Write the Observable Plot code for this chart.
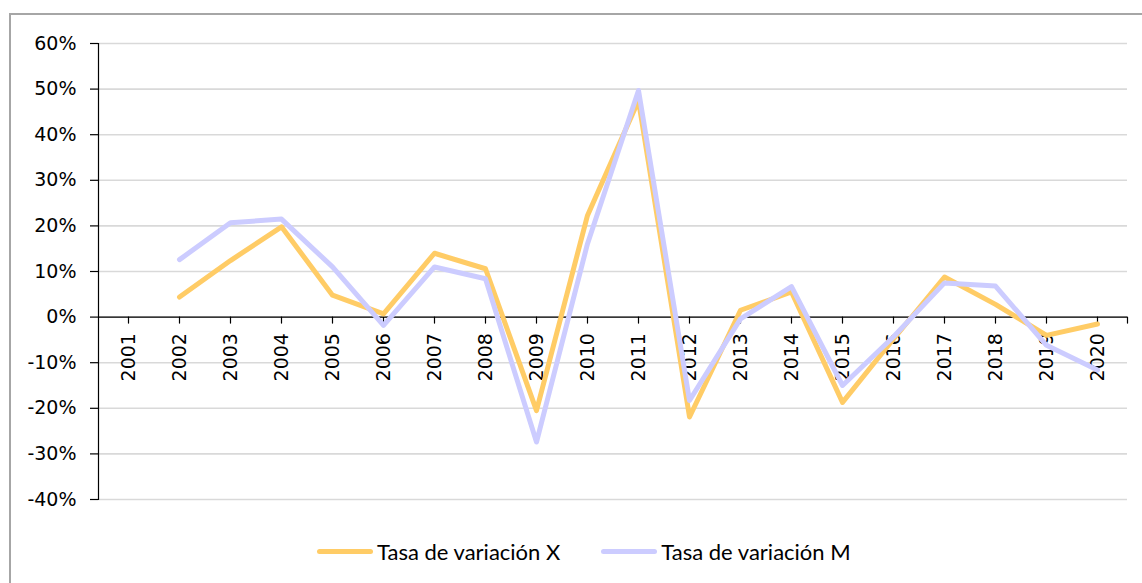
<!DOCTYPE html>
<html>
<head>
<meta charset="utf-8">
<script src="https://cdn.jsdelivr.net/npm/d3@7"></script>
<script src="https://cdn.jsdelivr.net/npm/@observablehq/plot@0.6"></script>
<style>
  html, body { margin: 0; padding: 0; background: #fff; }
  #wrap { position: relative; width: 1142px; height: 583px; overflow: hidden; }
  #border { position: absolute; left: 9px; top: 13px; width: 1200px; height: 700px;
            border-left: 2px solid #a6a6a6; border-top: 2px solid #a6a6a6; pointer-events: none; }
  #chart { position: absolute; left: 0; top: 0; }
  #legend { position: absolute; left: 317px; top: 538px; display: flex; align-items: center;
            font-family: Lato, "Noto Sans", sans-serif; font-size: 22px; color: #000; white-space: nowrap; }
  .item { display: flex; align-items: center; }
  .sw { width: 56px; height: 5px; border-radius: 3px; margin-right: 4px; }
</style>
</head>
<body>
<div id="wrap">
  <div id="chart"></div>
  <div id="legend"></div>
  <div id="border"></div>
</div>
<script>
const years = ["2001","2002","2003","2004","2005","2006","2007","2008","2009","2010",
               "2011","2012","2013","2014","2015","2016","2017","2018","2019","2020"];
const tasaX = [null, 0.044, 0.124, 0.198, 0.048, 0.007, 0.140, 0.106, -0.205, 0.223,
               0.475, -0.219, 0.015, 0.055, -0.187, -0.048, 0.088, 0.028, -0.040, -0.015];
const tasaM = [null, 0.126, 0.207, 0.215, 0.110, -0.018, 0.110, 0.084, -0.274, 0.161,
               0.497, -0.183, -0.004, 0.067, -0.150, -0.043, 0.075, 0.068, -0.062, -0.116];
const seriesNames = ["Tasa de variación X", "Tasa de variación M"];
const seriesColors = ["#ffcc66", "#ccccff"];
const yTicks = [-0.4, -0.3, -0.2, -0.1, 0, 0.1, 0.2, 0.3, 0.4, 0.5, 0.6];

const rows = [];
[tasaX, tasaM].forEach((vals, s) => {
  years.forEach((yr, i) => rows.push({year: yr, value: vals[i], series: seriesNames[s]}));
});

const pct = d => `${Math.round(d * 100)}%`;
const tickShape = { draw(ctx, l) { ctx.moveTo(0, 0); ctx.lineTo(0, -l); } };
const FONT = "'DejaVu Sans', sans-serif";

const chart = Plot.plot({
  width: 1142,
  height: 520,
  marginLeft: 98,
  marginRight: 15,
  marginTop: 43,
  marginBottom: 21,
  style: { fontFamily: FONT, fontSize: "19px", color: "#000", background: "transparent" },
  x: { type: "point", domain: years, padding: 0.5, axis: null },
  y: { domain: [-0.4, 0.6], axis: null },
  color: { domain: seriesNames, range: seriesColors },
  marks: [
    Plot.ruleY(yTicks, { stroke: "#d9d9d9", strokeWidth: 1.6 }),
    Plot.frame({ anchor: "left", stroke: "#000", strokeWidth: 1.2 }),
    Plot.axisY({ ticks: yTicks, label: null, tickSize: 8, tickPadding: 14, tickFormat: pct, fontSize: 19, fontFamily: FONT, stroke: "#000", strokeWidth: 1.2 }),
    Plot.ruleY([0], { stroke: "#000", strokeWidth: 1.2 }),
    Plot.vector(years, { x: d => d, y: 0, length: 6, rotate: 180, anchor: "start", shape: tickShape, stroke: "#000", strokeWidth: 1.2 }),
    Plot.vector([0], { y: d => d, frameAnchor: "right", length: 6, rotate: 180, anchor: "start", shape: tickShape, stroke: "#000", strokeWidth: 1.2 }),
    Plot.text(years, { x: d => d, y: 0, text: d => d, rotate: -90, textAnchor: "end", lineAnchor: "middle", dy: 16, fontSize: 19, fontFamily: FONT, fill: "#000" }),
    Plot.line(rows, { x: "year", y: "value", z: "series", stroke: "series", strokeWidth: 5, strokeLinejoin: "round", strokeLinecap: "round" })
  ]
});
document.getElementById("chart").appendChild(chart);

const legend = document.getElementById("legend");
seriesNames.forEach((name, i) => {
  const it = document.createElement("div");
  it.className = "item";
  if (i > 0) it.style.marginLeft = "41px";
  const sw = document.createElement("div");
  sw.className = "sw";
  sw.style.background = seriesColors[i];
  const tx = document.createElement("span");
  tx.textContent = name;
  it.appendChild(sw);
  it.appendChild(tx);
  legend.appendChild(it);
});
</script>
</body>
</html>
